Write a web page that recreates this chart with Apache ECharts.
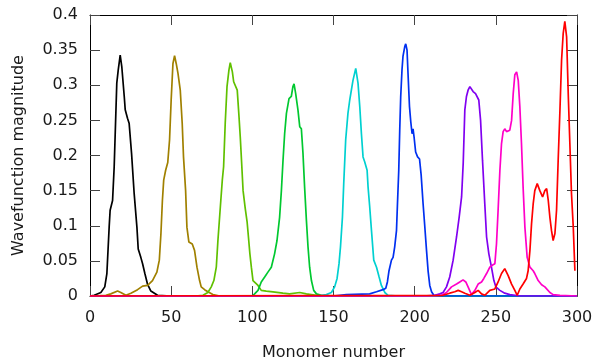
<!DOCTYPE html>
<html>
<head>
<meta charset="utf-8">
<script src="https://cdn.jsdelivr.net/npm/echarts@6/dist/echarts.min.js"></script>
<style>
html,body{margin:0;padding:0;background:#fff;}
#chart{width:594px;height:360px;}
</style>
</head>
<body>
<div id="chart"></div>
<script>
// x-axis ticks and y-axis ticks
const xTicks = [0, 50, 100, 150, 200, 250, 300];
const yTicks = [0, 0.05, 0.1, 0.15, 0.2, 0.25, 0.3, 0.35, 0.4];

// Each wavefunction: [monomer, magnitude]
const wf1 = [[0,0],[2.6,0.001],[6.7,0.005],[9.1,0.013],[10.4,0.032],[11.8,0.098],[12.4,0.122],[13.9,0.136],[14.9,0.184],[16.5,0.303],[17.4,0.322],[18.6,0.343],[19.6,0.326],[21.1,0.284],[21.7,0.265],[23.1,0.253],[24.1,0.246],[25.6,0.203],[27.2,0.146],[28.9,0.098],[29.7,0.067],[31.3,0.055],[32.4,0.046],[33.8,0.032],[35.4,0.017],[37.5,0.007],[41.6,0.001],[50,0],[300,0]];
const wf2 = [[0,0],[9.8,0.001],[12.8,0.003],[17,0.007],[19,0.005],[22.1,0.001],[25.2,0.004],[29.3,0.009],[32.4,0.014],[35.5,0.015],[38.5,0.022],[41.2,0.034],[42.7,0.051],[43.7,0.089],[44.6,0.136],[45.4,0.165],[46.6,0.179],[47.9,0.19],[49,0.222],[50,0.279],[51.1,0.331],[52.1,0.342],[53.1,0.331],[54.2,0.317],[55.6,0.293],[56.8,0.246],[57.6,0.198],[58.9,0.15],[59.7,0.098],[60.9,0.077],[63,0.074],[64.4,0.065],[65.9,0.041],[67.5,0.022],[68.5,0.013],[70.6,0.009],[72.6,0.006],[75.7,0.002],[80,0],[300,0]];
const wf3 = [[0,0],[65,0],[69.6,0.001],[72.6,0.005],[74.7,0.013],[76.3,0.022],[77.8,0.041],[78.8,0.079],[80.3,0.127],[81.5,0.165],[82.3,0.184],[83.3,0.246],[84.4,0.298],[85.6,0.322],[86.4,0.332],[87.7,0.319],[88.5,0.305],[89.7,0.304],[90.7,0.293],[91.8,0.255],[92.6,0.225],[93.4,0.19],[94.3,0.15],[95.6,0.125],[96.8,0.105],[97.6,0.084],[98.5,0.06],[99.4,0.041],[100.4,0.022],[101.4,0.02],[103.5,0.015],[105.5,0.008],[108.6,0.007],[112.7,0.006],[118.8,0.004],[122.9,0.003],[129.2,0.005],[133.3,0.003],[139.4,0.001],[145,0],[300,0]];
const wf4 = [[0,0],[100,0],[101.4,0.003],[103.5,0.008],[105.5,0.02],[107.6,0.027],[109.6,0.034],[111.7,0.041],[113.7,0.06],[115.2,0.079],[116.8,0.112],[117.9,0.15],[118.9,0.193],[119.9,0.231],[121,0.26],[122.6,0.281],[124,0.284],[125,0.298],[125.7,0.302],[126.7,0.288],[128.1,0.265],[129.2,0.241],[130.2,0.238],[131.2,0.203],[132.2,0.155],[133.3,0.108],[134.3,0.07],[135.3,0.041],[136.4,0.022],[137.8,0.008],[139.5,0.003],[142.5,0.001],[150,0],[300,0]];
const wf5 = [[0,0],[140,0],[145.6,0.002],[148.7,0.005],[150.7,0.013],[152.2,0.025],[153.4,0.046],[154.3,0.07],[155.5,0.112],[156.3,0.16],[157.5,0.222],[158.9,0.26],[160,0.279],[162,0.307],[163.7,0.324],[165.1,0.303],[166.2,0.269],[167.2,0.231],[168.2,0.198],[169.2,0.191],[170.7,0.179],[171.3,0.155],[172.3,0.127],[173.4,0.093],[174.8,0.051],[176.5,0.041],[178.1,0.027],[179.5,0.015],[181.6,0.005],[183.6,0.001],[190,0],[300,0]];
const wf6 = [[0,0],[150,0],[157.9,0.002],[172.3,0.003],[176.5,0.006],[180.5,0.009],[182.2,0.011],[183.2,0.02],[184.2,0.036],[185.7,0.051],[186.7,0.055],[187.7,0.07],[188.8,0.093],[189.4,0.131],[190.2,0.179],[190.8,0.236],[191.4,0.284],[192.2,0.322],[192.8,0.341],[193.9,0.355],[194.5,0.359],[195.3,0.35],[195.9,0.317],[196.8,0.27],[197.6,0.248],[198.4,0.231],[199,0.238],[199.6,0.227],[200.6,0.205],[201.8,0.198],[203,0.195],[204,0.172],[205.2,0.131],[206.2,0.1],[207.3,0.065],[208.3,0.035],[209.3,0.015],[210.4,0.006],[211.8,0.001],[215,0],[300,0]];
const wf7 = [[0,0],[205,0],[212.4,0.001],[215.5,0.003],[217.5,0.005],[219.6,0.013],[221.6,0.027],[223.7,0.051],[225.8,0.084],[227.4,0.112],[228.9,0.141],[229.9,0.189],[230.9,0.265],[231.9,0.284],[232.9,0.293],[234,0.298],[235,0.3],[236,0.291],[237.5,0.288],[238.7,0.288],[239.5,0.279],[240.6,0.25],[241.8,0.193],[243.2,0.131],[244.3,0.084],[245.7,0.06],[247.3,0.041],[248.8,0.022],[250,0.013],[252.5,0.008],[255.5,0.004],[258.6,0.002],[265,0],[300,0]];
const wf8 = [[0,0],[210,0],[216.5,0.001],[219.6,0.005],[222.7,0.013],[225.8,0.017],[227.8,0.02],[229.8,0.023],[231.5,0.02],[232.9,0.013],[235,0.002],[237.1,0.008],[239.1,0.017],[241.2,0.02],[242.6,0.025],[244.3,0.032],[246.3,0.041],[248,0.044],[249.4,0.046],[250.4,0.074],[251.4,0.122],[252.5,0.179],[253.5,0.217],[254.5,0.234],[255.5,0.238],[256.6,0.234],[258.6,0.236],[259.7,0.25],[260.7,0.288],[261.7,0.315],[262.8,0.319],[263.8,0.307],[264.8,0.269],[265.8,0.217],[266.8,0.155],[267.9,0.098],[269.3,0.055],[271,0.041],[273,0.036],[274,0.032],[276.1,0.022],[278.2,0.016],[280.2,0.013],[283.3,0.005],[285.3,0.002],[289.5,0.001],[300,0]];
const wf9 = [[0,0],[217.5,0.001],[221.6,0.004],[224.7,0.006],[226.8,0.008],[228.9,0.006],[230.9,0.004],[234,0.001],[237.1,0.005],[239.1,0.008],[241.2,0.003],[243.2,0.001],[246.3,0.008],[249.4,0.01],[251.4,0.02],[253.5,0.032],[255.5,0.039],[257.6,0.029],[259.7,0.017],[261.7,0.008],[263.2,0.001],[264.8,0.01],[266.8,0.017],[268.9,0.025],[269.9,0.036],[271,0.065],[272,0.103],[273,0.131],[274,0.15],[275.5,0.16],[277.1,0.15],[278.8,0.141],[280.2,0.15],[281.3,0.153],[282.3,0.136],[283.3,0.112],[284.3,0.093],[285.3,0.079],[286.4,0.089],[287.4,0.122],[288.4,0.193],[289.5,0.265],[290.5,0.336],[291.5,0.374],[292.5,0.391],[293.6,0.369],[294.6,0.288],[295.6,0.217],[296.6,0.146],[297.7,0.098],[298.7,0.036]];

const seriesData = [wf1, wf2, wf3, wf4, wf5, wf6, wf7, wf8, wf9];
const colors = ['#000000', '#a08000', '#60c000', '#00c830', '#00d0d0', '#0030f0', '#8000f0', '#ff00c8', '#ff0000'];

const font = 'DejaVu Sans';
const chart = echarts.init(document.getElementById('chart'), null, {renderer: 'canvas'});

const tickStyle = {show: true, inside: true, length: 10, lineStyle: {color: '#444', width: 1}};
const lineStyleAxis = {show: true, onZero: false, lineStyle: {color: '#000', width: 1}};

chart.setOption({
  animation: false,
  backgroundColor: '#fff',
  grid: {left: 90, right: 17, top: 15, bottom: 64, containLabel: false, outerBoundsMode: 'none'},
  xAxis: [
    {
      type: 'value', min: xTicks[0], max: xTicks[xTicks.length - 1], interval: 50,
      position: 'bottom',
      axisLine: lineStyleAxis, axisTick: tickStyle, splitLine: {show: false},
      axisLabel: {fontSize: 16, color: '#1a1a1a', fontFamily: font, margin: 14},
      name: 'Monomer number', nameLocation: 'middle', nameGap: 49,
      nameTextStyle: {fontSize: 16, color: '#1a1a1a', fontFamily: font}
    },
    {
      type: 'value', min: xTicks[0], max: xTicks[xTicks.length - 1], interval: 50,
      position: 'top',
      axisLine: lineStyleAxis, axisTick: tickStyle, splitLine: {show: false},
      axisLabel: {show: false}
    }
  ],
  yAxis: [
    {
      type: 'value', min: yTicks[0], max: yTicks[yTicks.length - 1], interval: 0.05,
      position: 'left',
      axisLine: lineStyleAxis, axisTick: tickStyle, splitLine: {show: false},
      axisLabel: {fontSize: 16, color: '#1a1a1a', fontFamily: font, margin: 12},
      name: 'Wavefunction magnitude', nameLocation: 'middle', nameGap: 63, nameRotate: 90,
      nameTextStyle: {fontSize: 16, color: '#1a1a1a', fontFamily: font}
    },
    {
      type: 'value', min: yTicks[0], max: yTicks[yTicks.length - 1], interval: 0.05,
      position: 'right',
      axisLine: lineStyleAxis, axisTick: tickStyle, splitLine: {show: false},
      axisLabel: {show: false}
    }
  ],
  series: seriesData.map((d, i) => ({
    type: 'line',
    data: d,
    xAxisIndex: 0, yAxisIndex: 0,
    showSymbol: false, symbol: 'none',
    lineStyle: {color: colors[i], width: 1.7},
    z: 2 + i
  }))
});
</script>
</body>
</html>
